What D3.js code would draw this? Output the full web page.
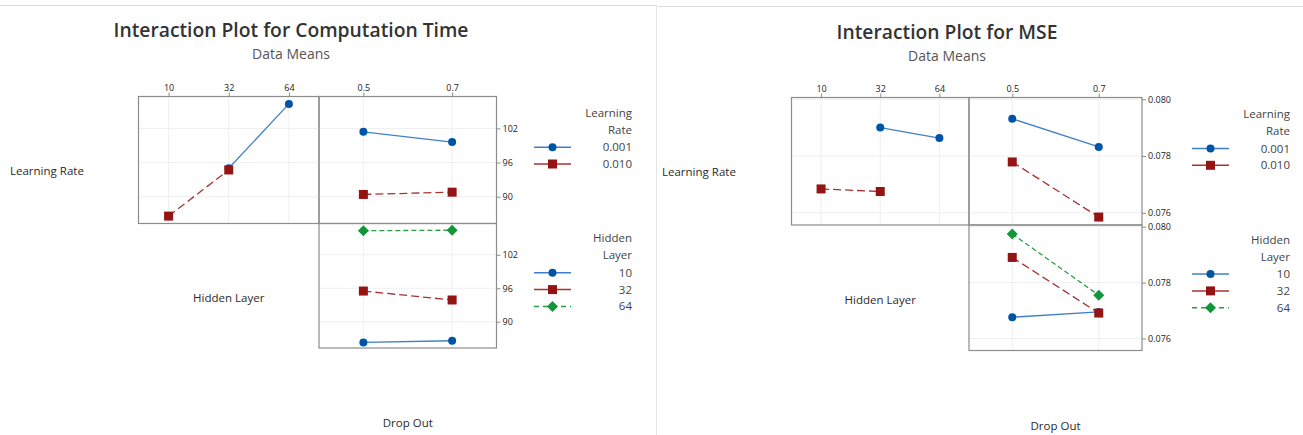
<!DOCTYPE html>
<html>
<head>
<meta charset="utf-8">
<script src="https://cdn.jsdelivr.net/npm/d3@7"></script>
<style>
  body { margin: 0; background: #fff; }
  svg { display: block; font-family: "Open Sans", "Noto Sans", sans-serif; }
</style>
</head>
<body>
<svg id="chart" width="1303" height="435"></svg>
<script>
// ===== Dades =====
const hiddenLayers = ["10", "32", "64"];
const dropOuts = ["0.5", "0.7"];
const learningRates = ["0.001", "0.010"];

// Computation Time
const ctLrByHidden001 = [null, 95.0, 106.3];
const ctLrByHidden010 = [86.6, 94.7, null];
const ctLrByDrop001 = [101.4, 99.6];
const ctLrByDrop010 = [90.4, 90.8];
const ctHidByDrop10 = [86.3, 86.6];
const ctHidByDrop32 = [95.5, 93.9];
const ctHidByDrop64 = [106.3, 106.4];
const ctTicks = [90, 96, 102];
const ctDomain = [85.3, 107.6];

// MSE
const mseLrByHidden001 = [null, 0.0790, 0.07863];
const mseLrByHidden010 = [0.07684, 0.07675, null];
const mseLrByDrop001 = [0.07931, 0.07832];
const mseLrByDrop010 = [0.07779, 0.07585];
const mseHidByDrop10 = [0.07676, 0.07695];
const mseHidByDrop32 = [0.0789, 0.07691];
const mseHidByDrop64 = [0.07974, 0.07755];
const mseTicks = [0.076, 0.078, 0.080];
const mseDomain = [0.07557, 0.08006];

// ===== Estils =====
const styles = [
  { line: "#3f7fc9", marker: "#0054a6", dash: null, legDash: null, shape: "circle" },
  { line: "#a83232", marker: "#941414", dash: "8,4", legDash: null, shape: "square" },
  { line: "#2a9a45", marker: "#13963a", dash: "5,3", legDash: "5,4", shape: "diamond" }
];

const svg = d3.select("#chart");

// vores de les dues captures
svg.append("line").attr("x1", 0).attr("x2", 656).attr("y1", 5.5).attr("y2", 5.5)
  .attr("stroke", "#dcdcdc");
svg.append("line").attr("x1", 656.5).attr("x2", 656.5).attr("y1", 5).attr("y2", 435)
  .attr("stroke", "#e4e4e4");
svg.append("line").attr("x1", 658).attr("x2", 1303).attr("y1", 6.5).attr("y2", 6.5)
  .attr("stroke", "#dcdcdc");

function drawMarker(g, shape, x, y, color) {
  if (shape === "circle") {
    g.append("circle").attr("cx", x).attr("cy", y).attr("r", 4).attr("fill", color);
  } else if (shape === "square") {
    g.append("rect").attr("x", x - 4.5).attr("y", y - 4.5).attr("width", 9).attr("height", 9)
      .attr("fill", color);
  } else {
    g.append("path").attr("d", `M${x},${y - 5.5}L${x + 5.5},${y}L${x},${y + 5.5}L${x - 5.5},${y}Z`)
      .attr("fill", color);
  }
}

function drawPanel(g, x0, x1, y0, y1, cats, seriesList, domain, ticks, opts) {
  const x = d3.scalePoint().domain(cats).range([x0, x1]).padding(0.5);
  const y = d3.scaleLinear().domain(domain).range([y1, y0]);

  // graella
  g.append("g").selectAll("line").data(cats).join("line")
    .attr("x1", d => x(d)).attr("x2", d => x(d)).attr("y1", y0).attr("y2", y1)
    .attr("stroke", "#efefef");
  g.append("g").selectAll("line").data(ticks).join("line")
    .attr("x1", x0).attr("x2", x1).attr("y1", d => y(d)).attr("y2", d => y(d))
    .attr("stroke", "#efefef");

  // sèries
  seriesList.forEach((vals, i) => {
    const st = styles[i];
    const pts = vals.map((v, j) => ({ c: cats[j], v })).filter(d => d.v !== null);
    const line = d3.line().x(d => x(d.c)).y(d => y(d.v));
    g.append("path").datum(pts).attr("d", line).attr("fill", "none")
      .attr("stroke", st.line).attr("stroke-width", 1.3)
      .attr("stroke-dasharray", st.dash);
    pts.forEach(d => drawMarker(g, st.shape, x(d.c), y(d.v), st.marker));
  });

  // marc
  g.append("rect").attr("x", x0).attr("y", y0).attr("width", x1 - x0).attr("height", y1 - y0)
    .attr("fill", "none").attr("stroke", "#8c8c8c").attr("stroke-width", 1.2);

  if (opts.topAxis) {
    const ax = g.append("g").attr("transform", `translate(0,${y0})`)
      .call(d3.axisTop(x).tickSize(4).tickPadding(2));
    ax.select(".domain").remove();
    ax.selectAll("line").attr("stroke", "#8c8c8c");
    ax.selectAll("text").attr("font-size", 9).attr("fill", "#222")
      .attr("font-family", "Open Sans, sans-serif");
  }
  if (opts.rightAxis) {
    const ax = g.append("g").attr("transform", `translate(${x1},0)`)
      .call(d3.axisRight(y).tickValues(ticks).tickSize(4).tickPadding(2).tickFormat(opts.fmt));
    ax.select(".domain").remove();
    ax.selectAll("line").attr("stroke", "#8c8c8c");
    ax.selectAll("text").attr("font-size", 9).attr("fill", "#222")
      .attr("font-family", "Open Sans, sans-serif");
  }
}

function drawLegend(g, lx, tx, yTitle, title, labels) {
  title.forEach((t, i) => {
    g.append("text").attr("x", tx).attr("y", yTitle + i * 17).attr("dy", "0.35em")
      .attr("text-anchor", "end").attr("font-size", 11.5).attr("fill", "#444").text(t);
  });
  labels.forEach((lab, i) => {
    const yy = yTitle + 34.5 + i * 16.8;
    const st = styles[i];
    g.append("line").attr("x1", lx).attr("x2", lx + 37).attr("y1", yy).attr("y2", yy)
      .attr("stroke", st.line).attr("stroke-width", 1.5).attr("stroke-dasharray", st.legDash);
    drawMarker(g, st.shape, lx + 18.5, yy, st.marker);
    g.append("text").attr("x", tx).attr("y", yy).attr("dy", "0.35em")
      .attr("text-anchor", "end").attr("font-size", 11.5).attr("fill", "#444").text(lab);
  });
}

function drawInteraction(c) {
  const g = svg.append("g");
  const [p0, p1, p2] = c.cols;
  const [r0, r1, r2] = c.rows;

  g.append("text").attr("x", c.titleX).attr("y", c.titleY).attr("text-anchor", "middle")
    .attr("font-size", 19.3).attr("font-weight", 600).attr("fill", "#333").text(c.title);
  g.append("text").attr("x", c.titleX).attr("y", c.titleY + 22).attr("text-anchor", "middle")
    .attr("font-size", 14).attr("fill", "#555").text("Data Means");

  drawPanel(g, p0, p1, r0, r1, hiddenLayers, c.lrByHidden, c.domain, c.ticks,
    { topAxis: true });
  drawPanel(g, p1, p2, r0, r1, dropOuts, c.lrByDrop, c.domain, c.ticks,
    { topAxis: true, rightAxis: true, fmt: c.fmt });
  drawPanel(g, p1, p2, r1, r2, dropOuts, c.hidByDrop, c.domain, c.ticks,
    { rightAxis: true, fmt: c.fmt });

  const lab = (x, y, t, anchor) => g.append("text").attr("x", x).attr("y", y).attr("dy", "0.35em")
    .attr("text-anchor", anchor).attr("font-size", 11.5).attr("font-weight", 500)
    .attr("fill", "#2a2a2a").text(t);
  lab(c.rowLabelX, (r0 + r1) / 2 + 11, "Learning Rate", "start");
  lab((p0 + p1) / 2, (r1 + r2) / 2 + 12, "Hidden Layer", "middle");
  lab((p1 + p2) / 2, c.dropY, "Drop Out", "middle");

  drawLegend(g, c.legX, c.legTX, c.legY, ["Learning", "Rate"], learningRates);
  drawLegend(g, c.legX, c.legTX, c.legY + 125.6, ["Hidden", "Layer"], hiddenLayers);
}

drawInteraction({
  title: "Interaction Plot for Computation Time",
  titleX: 291, titleY: 37,
  cols: [138.5, 319, 496.5], rows: [96.5, 223.5, 348],
  domain: ctDomain, ticks: ctTicks, fmt: d3.format("d"),
  lrByHidden: [ctLrByHidden001, ctLrByHidden010],
  lrByDrop: [ctLrByDrop001, ctLrByDrop010],
  hidByDrop: [ctHidByDrop10, ctHidByDrop32, ctHidByDrop64],
  rowLabelX: 10, dropY: 423,
  legX: 534, legTX: 632, legY: 112.7
});

drawInteraction({
  title: "Interaction Plot for MSE",
  titleX: 947, titleY: 39,
  cols: [791.5, 969, 1142], rows: [97.5, 225, 350.5],
  domain: mseDomain, ticks: mseTicks, fmt: d3.format(".3f"),
  lrByHidden: [mseLrByHidden001, mseLrByHidden010],
  lrByDrop: [mseLrByDrop001, mseLrByDrop010],
  hidByDrop: [mseHidByDrop10, mseHidByDrop32, mseHidByDrop64],
  rowLabelX: 662, dropY: 426,
  legX: 1192, legTX: 1290, legY: 114
});
</script>
</body>
</html>
